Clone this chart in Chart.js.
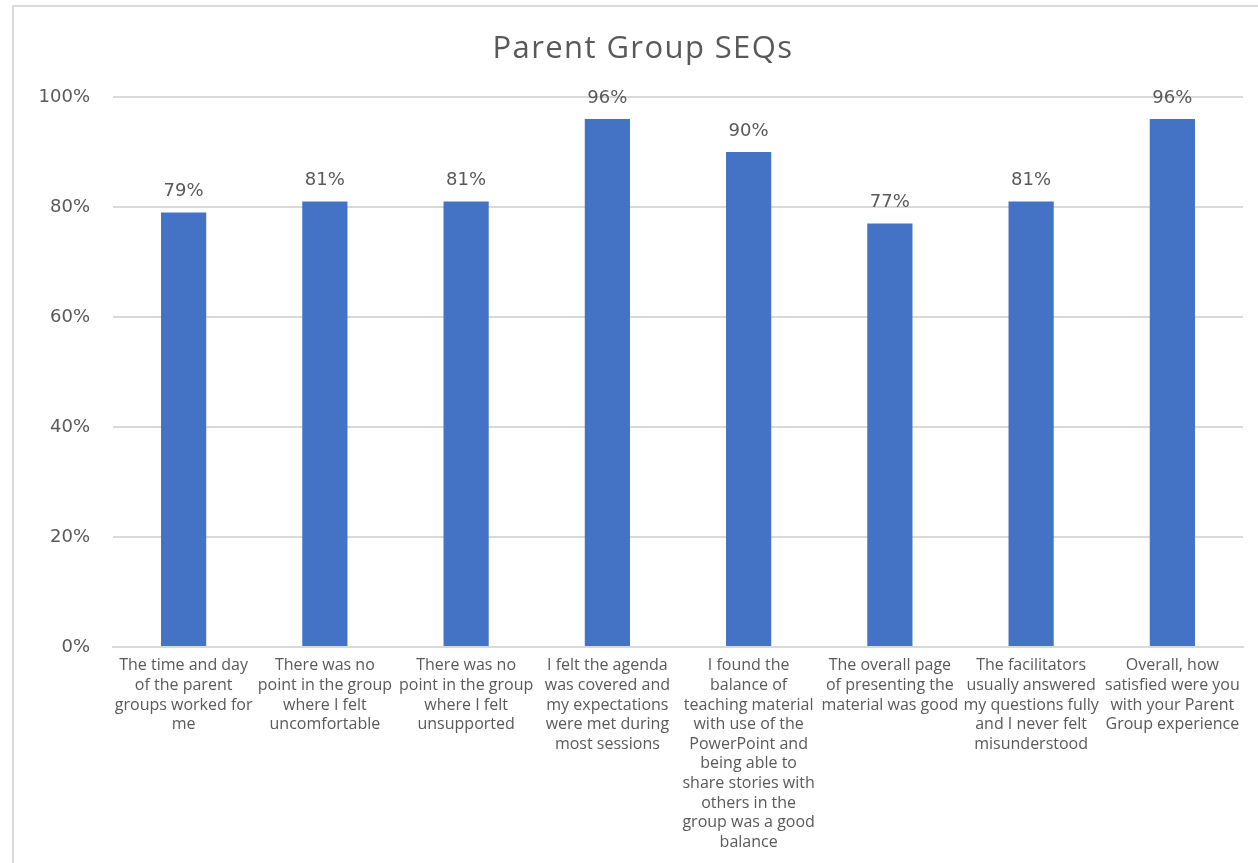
<!DOCTYPE html>
<html>
<head>
<meta charset="utf-8">
<script src="https://cdn.jsdelivr.net/npm/chart.js@4/dist/chart.umd.min.js"></script>
<style>
  html, body { margin: 0; padding: 0; background: #ffffff; }
  #wrap { position: absolute; left: 0; top: 0; width: 1258px; height: 863px; }
</style>
</head>
<body>
<div id="wrap"><canvas id="c" width="1258" height="863"></canvas></div>
<script>
const chartTitle = "Parent Group SEQs";
const categories = [
  ["The time and day", "of the parent", "groups worked for", "me"],
  ["There was no", "point in the group", "where I felt", "uncomfortable"],
  ["There was no", "point in the group", "where I felt", "unsupported"],
  ["I felt the agenda", "was covered and", "my expectations", "were met during", "most sessions"],
  ["I found the", "balance of", "teaching material", "with use of the", "PowerPoint and", "being able to", "share stories with", "others in the", "group was a good", "balance"],
  ["The overall page", "of presenting the", "material was good"],
  ["The facilitators", "usually answered", "my questions fully", "and I never felt", "misunderstood"],
  ["Overall, how", "satisfied were you", "with your Parent", "Group experience"]
];
const values = [79, 81, 81, 96, 90, 77, 81, 96];
const yTicks = [0, 20, 40, 60, 80, 100];

const TEXT = "#595959";

const dataLabels = {
  id: "dataLabels",
  afterDatasetsDraw(chart) {
    const ctx = chart.ctx;
    const meta = chart.getDatasetMeta(0);
    ctx.save();
    ctx.font = "18px 'DejaVu Sans'";
    ctx.fillStyle = TEXT;
    ctx.textAlign = "center";
    ctx.textBaseline = "middle";
    meta.data.forEach((bar, i) => {
      ctx.fillText(values[i] + "%", bar.x, bar.y - 21);
    });
    ctx.restore();
  }
};

const frameAndTitle = {
  id: "frameAndTitle",
  beforeDraw(chart) {
    const ctx = chart.ctx;
    ctx.save();
    ctx.fillStyle = "#ffffff";
    ctx.fillRect(0, 0, chart.width, chart.height);
    ctx.strokeStyle = "#d9d9d9";
    ctx.lineWidth = 2;
    ctx.strokeRect(13, 6, chart.width + 20, chart.height + 20);
    ctx.restore();
  },
  afterDraw(chart) {
    const ctx = chart.ctx;
    ctx.save();
    ctx.font = "31px 'Open Sans'";
    try { ctx.letterSpacing = "1.4px"; } catch (e) {}
    ctx.fillStyle = TEXT;
    ctx.textAlign = "center";
    ctx.textBaseline = "alphabetic";
    ctx.fillText(chartTitle, 643, 58);
    ctx.restore();
  }
};

new Chart(document.getElementById("c"), {
  type: "bar",
  data: {
    labels: categories,
    datasets: [{
      data: values,
      backgroundColor: "#4472C4",
      borderWidth: 0,
      barPercentage: 0.64,
      categoryPercentage: 0.5
    }]
  },
  options: {
    responsive: false,
    animation: false,
    devicePixelRatio: 1,
    layout: { padding: { left: 0, right: 15, top: 97, bottom: 0 } },
    plugins: {
      legend: { display: false },
      tooltip: { enabled: false },
      title: { display: false }
    },
    scales: {
      x: {
        grid: { display: false, drawTicks: false },
        border: { display: true, color: "#d9d9d9", width: 2 },
        ticks: {
          color: TEXT,
          font: { family: "'Open Sans'", size: 16, lineHeight: 1.225 },
          padding: 9,
          maxRotation: 0,
          minRotation: 0,
          autoSkip: false
        },
        afterFit(scale) { scale.height = 216; }
      },
      y: {
        min: 0,
        max: 100,
        afterBuildTicks(scale) { scale.ticks = yTicks.map(v => ({ value: v })); },
        grid: { color: "#d9d9d9", lineWidth: 2, drawTicks: false },
        border: { display: false },
        ticks: {
          color: TEXT,
          font: { family: "'DejaVu Sans'", size: 18 },
          padding: 23,
          callback: v => v + "%"
        },
        afterFit(scale) { scale.width = 113; }
      }
    }
  },
  plugins: [frameAndTitle, dataLabels]
});
</script>
</body>
</html>
